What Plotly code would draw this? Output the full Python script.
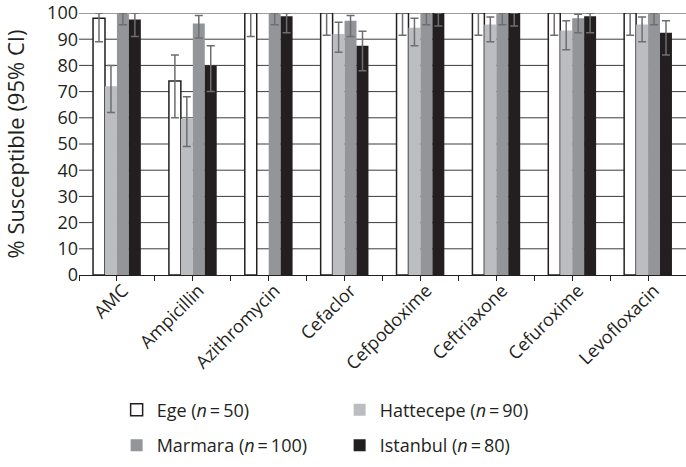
import plotly.graph_objects as go

categories = ["AMC", "Ampicillin", "Azithromycin", "Cefaclor", "Cefpodoxime",
              "Ceftriaxone", "Cefuroxime", "Levofloxacin"]

ege = [98, 74, 100, 100, 100, 100, 100, 100]
ege_lo = [89, 60, 91, 91.5, 91.5, 91.5, 91.5, 91.5]
ege_hi = [100, 84, 100, 100, 100, 100, 100, 100]

hattecepe = [72, 59.5, None, 92, 94.4, 95.6, 93.3, 95.6]
hattecepe_lo = [62, 49, None, 85, 87.5, 89, 86, 89]
hattecepe_hi = [80, 68, None, 96.5, 98, 98.5, 97, 98.5]

marmara = [100, 96, 100, 97, 100, 100, 98, 100]
marmara_lo = [95.5, 90.5, 95.5, 91, 95.5, 95.5, 92.5, 95.5]
marmara_hi = [100, 99, 100, 99, 100, 100, 99.5, 100]

istanbul = [97.5, 80, 98.75, 87.5, 100, 100, 98.75, 92.5]
istanbul_lo = [91, 70, 92.5, 78, 95, 95, 92.5, 84]
istanbul_hi = [100, 87.5, 100, 93, 100, 100, 100, 97]

series_names = ["Ege (<i>n</i>\u2009=\u200950)", "Hattecepe (<i>n</i>\u2009=\u200990)",
                "Marmara (<i>n</i>\u2009=\u2009100)", "Istanbul (<i>n</i>\u2009=\u200980)"]
y_ticks = list(range(0, 101, 10))

FONT = "Open Sans"
INK = "#231f20"
GRID = "#3c3c3c"

def up(v, hi):
    return [None if a is None else h - a for a, h in zip(v, hi)]

def down(v, lo):
    return [None if a is None else a - l for a, l in zip(v, lo)]

xs = list(range(len(categories)))
series = [
    (series_names[0], ege, ege_lo, ege_hi, "#ffffff", 1.5, "legend"),
    (series_names[1], hattecepe, hattecepe_lo, hattecepe_hi, "#bcbdc0", 0, "legend"),
    (series_names[2], marmara, marmara_lo, marmara_hi, "#939598", 0, "legend2"),
    (series_names[3], istanbul, istanbul_lo, istanbul_hi, "#231f20", 0, "legend2"),
]

fig = go.Figure()
for name, v, lo, hi, col, lw, leg in series:
    fig.add_trace(go.Bar(
        x=xs, y=v, name=name, legend=leg,
        marker=dict(color=col, line=dict(color=INK, width=lw)),
        error_y=dict(type="data", symmetric=False, array=up(v, hi),
                     arrayminus=down(v, lo), color="#6d6e71",
                     thickness=1.5, width=4),
        cliponaxis=False,
    ))

# horizontal gridlines at the y tick values
for v in y_ticks[1:]:
    fig.add_shape(type="line", xref="paper", x0=0, x1=1, yref="y", y0=v, y1=v,
                  line=dict(color=GRID, width=1), layer="below")

half_vals = [i / 2 for i in range(-1, 16)]
half_text = [categories[int(t)] if float(t).is_integer() else "" for t in half_vals]

fig.update_layout(
    width=686, height=467,
    margin=dict(l=79, r=0, t=10, b=192),
    paper_bgcolor="white", plot_bgcolor="white",
    barmode="group", bargap=0.37, bargroupgap=0,
    font=dict(family=FONT, color=INK, size=17),
    xaxis=dict(
        range=[-0.5, 7.5], tickvals=half_vals, ticktext=half_text,
        tickangle=-45, ticks="outside", ticklen=5, tickcolor=INK, tickwidth=1,
        showline=True, linecolor=INK, linewidth=1, showgrid=False,
        tickfont=dict(size=18, family=FONT, color=INK), zeroline=False,
        ticklabelstandoff=-8, ticklabelshift=6,
    ),
    yaxis=dict(
        range=[0, 100], tickmode="array", tickvals=y_ticks, showline=False,
        ticks="", showgrid=False, zeroline=False, ticklabeloverflow="allow",
        tickfont=dict(size=18, family=FONT, color=INK),
        title=dict(text="% Susceptible (95% CI)", font=dict(size=22, family=FONT, color=INK),
                   standoff=22),
    ),
    legend=dict(orientation="h", x=0.062, xanchor="left", y=-0.445, yanchor="top",
                entrywidth=178, font=dict(size=18, family=FONT, color=INK),
                traceorder="normal", itemwidth=30, bgcolor="rgba(0,0,0,0)"),
    legend2=dict(orientation="h", x=0.062, xanchor="left", y=-0.58, yanchor="top",
                 entrywidth=178, font=dict(size=18, family=FONT, color=INK),
                 traceorder="normal", itemwidth=30, bgcolor="rgba(0,0,0,0)"),
)

fig.write_html("out.html", config={"displayModeBar": False},
               post_script="document.body.style.margin='0';")
